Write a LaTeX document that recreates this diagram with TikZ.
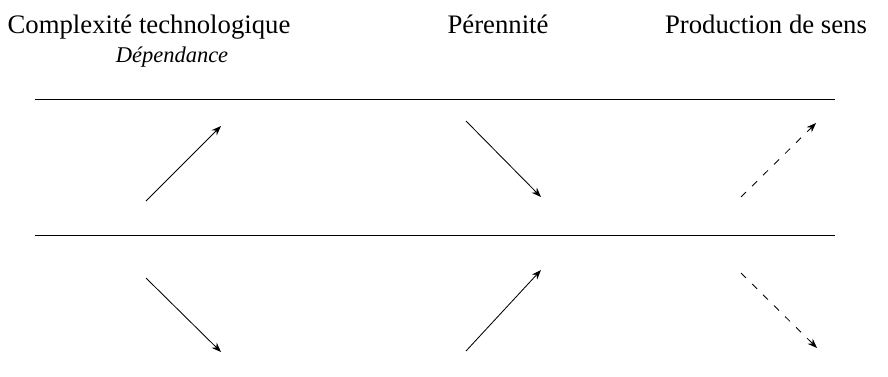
\documentclass[tikz,border=0pt]{standalone}
\usepackage{fontspec}
\setmainfont{Liberation Serif}
\usepackage{tikz}
\usetikzlibrary{arrows.meta}

\begin{document}
\begin{tikzpicture}[
    x=0.025cm, y=-0.025cm,
    head/.style={anchor=base, inner sep=0pt, font=\fontsize{19}{22}\selectfont},
    sub/.style={anchor=base, inner sep=0pt, font=\fontsize{16}{18}\selectfont\itshape},
    rule/.style={line width=0.6pt},
    trend/.style={-{Stealth[length=2.4mm,width=1.8mm]}, line width=0.6pt},
    guess/.style={trend, dash pattern=on 5pt off 6pt}]
  \useasboundingbox (0,0) rectangle (888,376);
  % column titles
  \node[head] (complex) at (149,33) {Complexité technologique};
  \node[sub] (dep) at (172,62) {Dépendance};
  \node[head] (peren) at (498,33) {Pérennité};
  \node[head] (sens) at (766,33) {Production de sens};
  % separating rules
  \coordinate (r1a) at (35,99);  \coordinate (r1b) at (835,99);
  \coordinate (r2a) at (35,235); \coordinate (r2b) at (835,235);
  \draw[rule] (r1a) -- (r1b);
  \draw[rule] (r2a) -- (r2b);
  % first row
  \coordinate (a1) at (146,201); \coordinate (a2) at (221,126);
  \coordinate (b1) at (466,121); \coordinate (b2) at (541,197);
  \coordinate (c1) at (741,197); \coordinate (c2) at (816,123);
  \draw[trend] (a1) -- (a2);
  \draw[trend] (b1) -- (b2);
  \draw[guess] (c1) -- (c2);
  % second row
  \coordinate (d1) at (146,278); \coordinate (d2) at (221,352);
  \coordinate (e1) at (466,351); \coordinate (e2) at (541,270);
  \coordinate (f1) at (741,273); \coordinate (f2) at (817,348);
  \draw[trend] (d1) -- (d2);
  \draw[trend] (e1) -- (e2);
  \draw[guess] (f1) -- (f2);
\end{tikzpicture}
\end{document}
